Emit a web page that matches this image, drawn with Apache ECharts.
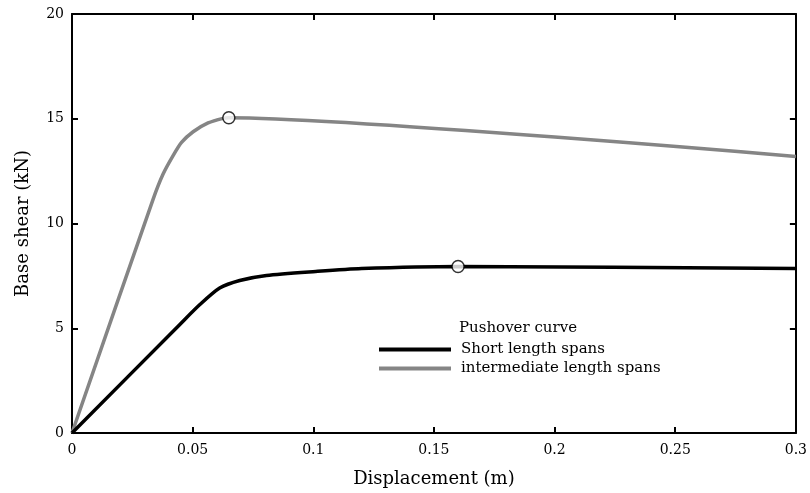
<!DOCTYPE html>
<html>
<head>
<meta charset="utf-8">
<script src="https://cdn.jsdelivr.net/npm/echarts@6/dist/echarts.min.js"></script>
<style>html,body{margin:0;padding:0;background:#fff}#c{width:810px;height:493px}</style>
</head>
<body>
<div id="c"></div>
<script>
var shortDisp  = [0, 0.0447, 0.053, 0.0612, 0.0695, 0.0806, 0.101, 0.12, 0.16, 0.3];
var shortShear = [0, 5.18, 6.13, 6.92, 7.28, 7.52, 7.71, 7.85, 7.95, 7.85];
var interDisp  = [0, 0.0336, 0.0378, 0.0419, 0.0454, 0.0502, 0.0564, 0.0626, 0.065, 0.3];
var interShear = [0, 11.15, 12.37, 13.24, 13.87, 14.38, 14.8, 15.02, 15.05, 13.2];
var peakDisp   = [0.065, 0.16];
var peakShear  = [15.05, 7.95];
var seriesNames = ['Short length spans', 'intermediate length spans'];
var legendTitle = 'Pushover curve';
var xTitle = 'Displacement (m)';
var yTitle = 'Base shear (kN)';

function pairs(a, b) { return a.map(function (v, i) { return [v, b[i]]; }); }

var FONT = 'DejaVu Serif';
var chart = echarts.init(document.getElementById('c'));
var axisCommon = {
  axisLine: { show: true, onZero: false, lineStyle: { color: '#000', width: 2 } },
  axisTick: { show: true, inside: true, length: 6, lineStyle: { color: '#000', width: 2 } },
  splitLine: { show: false }
};
chart.setOption({
  animation: false,
  backgroundColor: '#fff',
  grid: { left: 72, right: 13, top: 14, bottom: 57 },
  title: {
    text: legendTitle, left: 454, top: 316,
    textStyle: { fontFamily: FONT, fontSize: 15, fontWeight: 'normal', color: '#000' }
  },
  legend: {
    orient: 'vertical', left: 374, top: 337,
    itemWidth: 72, itemHeight: 4, itemGap: 4, icon: 'rect',
    data: seriesNames,
    textStyle: { fontFamily: FONT, fontSize: 15, color: '#000', padding: [0, 0, 0, 5] }
  },
  xAxis: [
    Object.assign({
      type: 'value', position: 'bottom', min: 0, max: 0.3, interval: 0.05,
      name: xTitle, nameLocation: 'middle', nameGap: 37,
      nameTextStyle: { fontFamily: FONT, fontSize: 18, color: '#000' },
      axisLabel: { fontFamily: FONT, fontSize: 14, color: '#000', margin: 10,
        formatter: function (v) { return String(+v.toFixed(2)); } }
    }, axisCommon),
    Object.assign({
      type: 'value', position: 'top', min: 0, max: 0.3, interval: 0.05,
      axisLabel: { show: false }
    }, axisCommon)
  ],
  yAxis: [
    Object.assign({
      type: 'value', position: 'left', min: 0, max: 20, interval: 5,
      name: yTitle, nameLocation: 'middle', nameGap: 40,
      nameTextStyle: { fontFamily: FONT, fontSize: 18, color: '#000' },
      axisLabel: { fontFamily: FONT, fontSize: 14, color: '#000', margin: 8 }
    }, axisCommon),
    Object.assign({
      type: 'value', position: 'right', min: 0, max: 20, interval: 5,
      axisLabel: { show: false }
    }, axisCommon)
  ],
  series: [
    {
      name: seriesNames[0], type: 'line', data: pairs(shortDisp, shortShear),
      smooth: 0.25, symbol: 'none', color: '#000',
      lineStyle: { color: '#000', width: 3.5 }, z: 3
    },
    {
      name: seriesNames[1], type: 'line', data: pairs(interDisp, interShear),
      smooth: 0.2, symbol: 'none', color: '#858585',
      lineStyle: { color: '#858585', width: 3.5 }, z: 2
    },
    {
      name: 'peaks', type: 'scatter', data: pairs(peakDisp, peakShear),
      symbol: 'circle', symbolSize: 12,
      itemStyle: { color: '#fff', borderColor: '#000', borderWidth: 1.5 }, z: 5
    }
  ]
});
</script>
</body>
</html>
